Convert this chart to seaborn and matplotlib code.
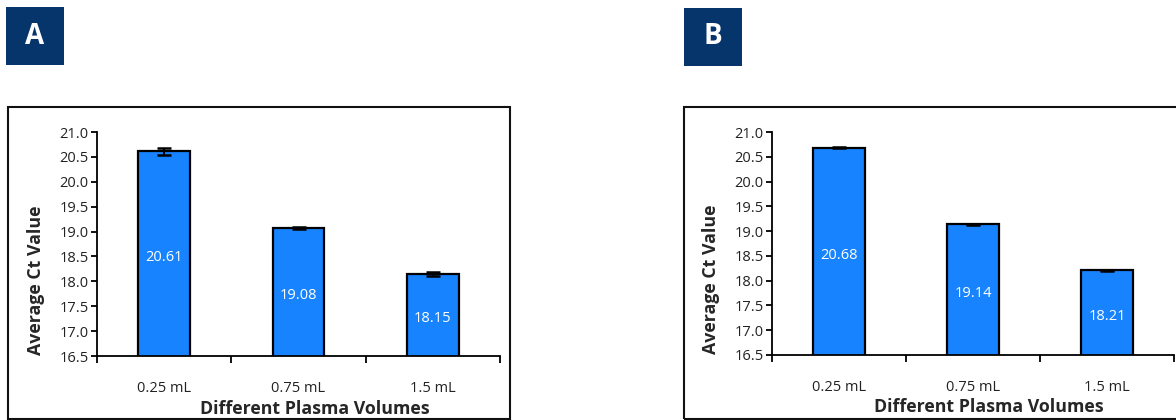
import matplotlib
matplotlib.use("Agg")
import matplotlib.pyplot as plt
from matplotlib.patches import Rectangle
import seaborn as sns
import numpy as np

# Data
volumes = ["0.25 mL", "0.75 mL", "1.5 mL"]
ct_a = [20.61, 19.08, 18.15]
err_a = [0.07, 0.02, 0.04]
ct_b = [20.68, 19.14, 18.21]
err_b = [0.01, 0.01, 0.01]
y_ticks = [16.5, 17.0, 17.5, 18.0, 18.5, 19.0, 19.5, 20.0, 20.5, 21.0]

sns.set_theme(style="white")
plt.rcParams["font.family"] = ["Open Sans", "DejaVu Sans"]

BAR_COLOR = "#1883ff"
BADGE_COLOR = "#06356b"
W, H = 1176, 420

fig = plt.figure(figsize=(W / 100, H / 100), dpi=100)


def px_rect(x0, y0, x1, y1):
    """Convert pixel box (top-left origin) to figure fraction [l, b, w, h]."""
    return [x0 / W, (H - y1) / H, (x1 - x0) / W, (y1 - y0) / H]


def panel(letter, values, errors, frame, badge, axes_box):
    # outer frame
    l, b, w, h = px_rect(*frame)
    fig.patches.append(Rectangle((l, b), w, h, transform=fig.transFigure,
                                 fill=False, edgecolor="#111111", linewidth=1.5))
    # letter badge
    l, b, w, h = px_rect(*badge)
    fig.patches.append(Rectangle((l, b), w, h, transform=fig.transFigure,
                                 facecolor=BADGE_COLOR, edgecolor="none"))
    fig.text(l + w / 2, b + h / 2, letter, color="white", fontsize=20,
             fontweight="bold", ha="center", va="center")

    ax = fig.add_axes(px_rect(*axes_box))
    sns.barplot(x=volumes, y=values, ax=ax, color=BAR_COLOR, width=0.385,
                edgecolor="black", linewidth=1.6, saturation=1, errorbar=None)
    x = np.arange(len(volumes))
    ax.errorbar(x, values, yerr=errors, fmt="none", ecolor="black",
                elinewidth=1.5, capsize=5, capthick=1.8)
    for xi, v in zip(x, values):
        ax.text(xi, (16.5 + v) / 2 - 0.08, f"{v:.2f}", color="white",
                fontsize=10.5, ha="center", va="center")

    ax.set_ylim(16.5, 21.0)
    ax.set_xlim(-0.5, 2.5)
    ax.set_yticks(y_ticks)
    ax.set_yticklabels([f"{t:.1f}" for t in y_ticks], fontsize=10.5)
    ax.set_xticks(x)
    ax.set_xticklabels(volumes, fontsize=10.5)
    ax.set_xticks([-0.5, 0.5, 1.5, 2.5], minor=True)
    ax.tick_params(axis="x", which="major", length=0, pad=18, colors="#222222")
    ax.tick_params(axis="x", which="minor", length=5, width=1.3, direction="out",
                   color="black", bottom=True)
    ax.tick_params(axis="y", length=4, width=1.3, direction="out", color="black",
                   left=True, pad=2, colors="#222222")
    ax.yaxis.set_tick_params(color="black")
    for s in ("top", "right"):
        ax.spines[s].set_visible(False)
    for s in ("left", "bottom"):
        ax.spines[s].set_color("black")
        ax.spines[s].set_linewidth(1.3)
    ax.set_facecolor("none")
    ax.set_ylabel("Average Ct Value", fontsize=12.8, fontweight="bold")
    ax.set_xlabel("Different Plasma Volumes", fontsize=12.8, fontweight="bold")
    ax.yaxis.set_label_coords(-0.13, 0.34)
    ax.xaxis.set_label_coords(0.54, -0.195)
    return ax


panel("A", ct_a, err_a, frame=(8, 107, 510, 419), badge=(6, 7, 64, 65),
      axes_box=(97, 132, 500, 356))
panel("B", ct_b, err_b, frame=(684, 107, 1200, 419), badge=(684, 8, 742, 66),
      axes_box=(772, 132, 1174, 355))

fig.savefig("out.png", dpi=100)
